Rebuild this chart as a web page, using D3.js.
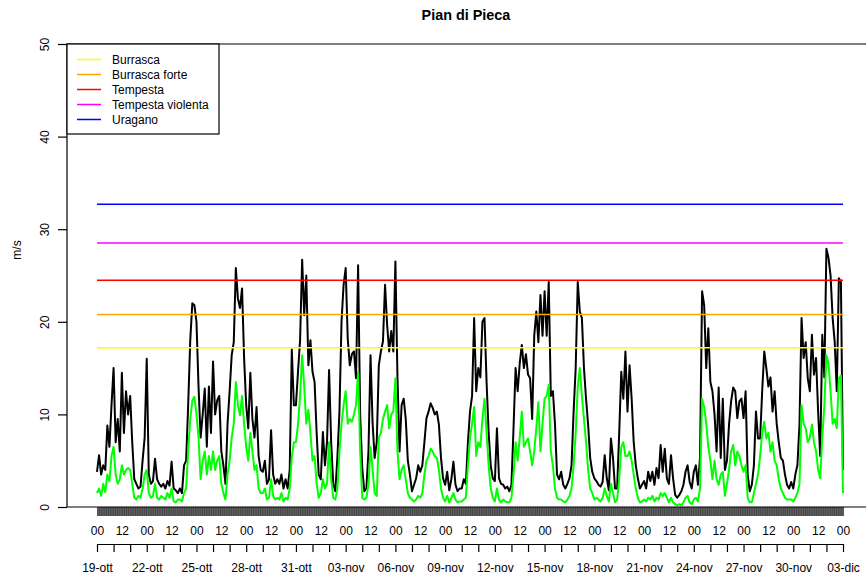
<!DOCTYPE html>
<html>
<head>
<meta charset="utf-8">
<script src="https://cdn.jsdelivr.net/npm/d3@7"></script>
<style>
body { margin: 0; background: #fff; }
text { font-family: "Liberation Sans", Arial, sans-serif; }
</style>
</head>
<body>
<div id="chart"></div>
<script>
var title = "Pian di Pieca";
var yLabel = "m/s";
var yTicks = [0, 10, 20, 30, 40, 50];
var stepHours = 3;
var hourLabels = ["00", "12"];
var dayLabels = ["19-ott", "22-ott", "25-ott", "28-ott", "31-ott", "03-nov", "06-nov", "09-nov",
                 "12-nov", "15-nov", "18-nov", "21-nov", "24-nov", "27-nov", "30-nov", "03-dic"];

var thresholdNames = ["Burrasca", "Burrasca forte", "Tempesta", "Tempesta violenta", "Uragano"];
var thresholdValues = [17.2, 20.8, 24.5, 28.5, 32.7];
var thresholdColors = ["#ffff00", "#ffa500", "#ff0000", "#ff00ff", "#0000ff"];

// raffica (black), one row per day, every 3 hours
var gust = [
  3.8, 5.6, 3.5, 4.5, 4.0, 8.8, 6.5, 11.0,
  15.0, 7.0, 9.5, 6.0, 14.5, 8.0, 12.5, 10.0,
  12.0, 7.0, 3.0, 2.5, 2.0, 2.2, 5.0, 7.5,
  16.0, 3.5, 2.5, 2.8, 5.2, 3.0, 2.5, 2.2,
  2.5, 2.0, 2.8, 2.3, 4.9, 2.0, 1.8, 1.5,
  2.0, 1.5, 4.5, 5.0, 11.0, 18.0, 22.0, 21.8,
  20.0, 13.0, 7.5, 10.0, 12.8, 6.5, 13.0, 8.0,
  15.7, 10.0, 11.5, 12.0, 6.0, 4.5, 2.5, 9.0,
  12.5, 16.4, 17.8, 25.8, 22.5, 21.5, 23.6, 16.0,
  11.0, 8.5, 14.5, 9.5, 7.5, 10.8, 5.5, 4.0,
  3.8, 5.0, 2.5, 3.0, 8.3, 3.5, 2.5, 3.0,
  2.5, 3.5, 2.0, 3.0, 2.0, 4.0, 17.0, 11.0,
  11.0, 14.6, 18.0, 26.7, 20.7, 25.0, 15.3, 18.0,
  14.6, 13.5, 8.0, 3.5, 3.0, 8.1, 4.5, 7.0,
  14.8, 7.0, 2.5, 1.7, 5.3, 10.3, 20.0, 24.0,
  25.8, 18.2, 15.3, 16.5, 16.8, 13.9, 26.1, 10.0,
  4.2, 1.7, 2.0, 6.0, 16.4, 9.0, 5.3, 7.0,
  15.3, 16.8, 17.9, 24.0, 19.7, 16.8, 19.0, 16.8,
  26.5, 14.0, 6.0, 11.0, 11.7, 9.5, 5.0, 3.5,
  1.7, 2.4, 3.1, 4.5, 3.8, 4.5, 7.0, 9.6,
  10.3, 11.2, 10.7, 10.0, 10.3, 8.9, 5.3, 3.1,
  2.4, 3.8, 1.8, 3.0, 4.9, 2.4, 1.7, 2.0,
  2.0, 3.0, 2.5, 7.0, 10.3, 12.0, 20.4, 12.5,
  15.0, 14.0, 20.0, 20.4, 13.5, 8.0, 4.5, 3.1,
  2.8, 8.5, 3.1, 2.5, 2.4, 2.0, 2.2, 1.7,
  2.4, 8.5, 15.0, 12.5, 15.5, 17.5, 15.0, 16.5,
  14.3, 13.9, 9.5, 18.5, 21.1, 17.8, 22.9, 18.5,
  23.3, 18.5, 24.3, 12.0, 12.5, 9.0, 3.5, 3.0,
  3.8, 2.4, 2.0, 2.5, 3.1, 4.5, 10.3, 15.0,
  24.3, 21.1, 20.4, 15.0, 11.7, 8.9, 5.3, 3.8,
  3.1, 2.8, 2.4, 2.2, 2.7, 5.6, 3.1, 1.8,
  7.4, 5.3, 2.0, 2.0, 8.0, 14.6, 11.7, 16.8,
  10.3, 15.3, 11.7, 7.0, 4.5, 3.1, 2.0, 2.4,
  2.8, 2.0, 3.8, 2.8, 3.8, 2.4, 4.2, 3.1,
  6.7, 3.8, 6.3, 3.1, 2.5, 5.6, 3.1, 1.3,
  1.0, 1.3, 1.7, 2.4, 3.8, 4.5, 2.7, 2.0,
  3.8, 4.5, 2.4, 5.3, 23.3, 21.8, 15.0, 19.3,
  13.5, 12.5, 10.0, 6.0, 12.9, 5.3, 11.7, 4.0,
  5.0, 8.9, 11.4, 12.9, 12.5, 9.6, 11.4, 11.7,
  9.6, 12.5, 3.5, 1.7, 2.4, 4.5, 10.3, 7.4,
  7.4, 12.5, 16.8, 15.0, 13.0, 14.0, 10.3, 12.5,
  9.0, 7.0, 5.3, 5.0, 3.5, 2.4, 2.0, 2.7,
  2.0, 3.5, 4.5, 8.9, 20.4, 16.1, 17.8, 13.9,
  12.5, 18.6, 14.3, 16.1, 10.3, 5.5, 18.6, 14.0,
  27.9, 26.9, 25.0, 20.4, 17.8, 12.5, 24.7, 24.3,
  4.0
];

// vento medio (green), same times
var wind = [
  1.5, 2.0, 1.2, 2.5, 1.6, 3.5, 2.8, 5.5,
  6.5, 3.5, 2.5, 3.0, 4.5, 3.5, 4.0, 4.2,
  4.0, 2.5, 1.0, 0.8, 1.2, 1.0, 2.0, 3.5,
  4.0, 1.5, 1.0, 1.2, 2.5, 1.0, 0.8, 1.2,
  1.0, 0.8, 1.5, 1.0, 2.0, 0.6, 0.5, 0.8,
  0.8, 0.6, 1.5, 2.0, 6.0, 9.5, 11.5, 11.9,
  10.0, 7.5, 3.0, 5.0, 6.0, 3.5, 5.5, 4.0,
  6.0, 4.0, 5.0, 5.5, 2.5, 1.5, 0.8, 3.5,
  5.0, 7.5, 9.0, 13.5, 11.0, 9.9, 12.0, 9.0,
  6.5, 5.0, 8.0, 6.0, 4.0, 4.5, 2.0, 1.5,
  1.5, 2.0, 0.8, 1.0, 3.0, 1.2, 0.8, 1.0,
  0.8, 1.5, 0.6, 1.0, 0.8, 2.0, 5.3, 7.0,
  7.0, 8.9, 12.0, 16.4, 13.0, 9.0, 10.5, 8.0,
  5.0, 5.5, 2.5, 1.0, 1.5, 3.0, 2.0, 2.5,
  7.0, 3.0, 1.0, 0.8, 2.0, 6.0, 9.0, 11.0,
  12.5, 9.0, 9.5, 9.2, 10.0, 11.0, 14.6, 6.0,
  1.0, 0.8, 1.0, 2.5, 6.5, 4.0, 1.5, 1.2,
  7.5, 8.0, 9.5, 10.3, 11.0, 8.5, 10.0, 10.3,
  13.9, 6.0, 3.0, 4.0, 4.5, 3.0, 1.5, 1.0,
  0.8, 0.6, 0.8, 1.2, 1.0, 1.5, 3.5, 5.0,
  5.5, 6.3, 6.0, 5.5, 5.3, 4.0, 2.0, 1.0,
  0.6, 1.2, 0.5, 1.0, 1.5, 0.8, 0.5, 0.6,
  0.6, 0.8, 1.0, 4.5, 7.5, 9.0, 10.8, 5.5,
  7.0, 6.5, 9.5, 11.7, 8.0, 4.5, 2.0, 1.0,
  0.6, 2.0, 0.8, 0.5, 0.8, 0.6, 0.5, 0.5,
  1.0, 3.5, 7.0, 5.0, 7.5, 10.3, 6.5, 7.0,
  7.4, 6.0, 4.5, 6.0, 8.5, 11.3, 6.0, 9.0,
  11.7, 12.0, 13.2, 6.0, 4.5, 2.0, 1.0, 0.8,
  0.8, 0.6, 0.5, 0.8, 1.2, 2.0, 4.5, 8.0,
  13.0, 15.0, 12.0, 9.5, 7.0, 4.0, 2.0, 1.5,
  0.8, 1.0, 0.8, 0.6, 1.0, 2.0, 1.2, 0.6,
  2.5, 1.5, 0.5, 0.8, 3.0, 6.5, 7.0, 5.5,
  5.5, 6.0, 5.0, 3.5, 2.0, 1.0, 0.5, 0.6,
  0.8, 0.6, 1.0, 0.8, 1.2, 0.6, 1.0, 0.8,
  1.5, 1.2, 1.5, 1.0, 0.5, 1.0, 0.5, 0.3,
  0.2, 0.3, 0.2, 0.5, 1.0, 1.2, 0.5, 0.3,
  0.8, 1.0, 0.6, 2.0, 11.7, 10.8, 9.0, 6.5,
  5.0, 3.0, 5.0, 3.0, 2.4, 3.5, 3.8, 1.2,
  2.5, 4.0, 6.0, 6.7, 4.5, 6.0, 5.5, 4.5,
  3.8, 4.5, 1.0, 0.5, 0.5, 1.5, 2.5, 3.5,
  5.5, 8.0, 9.2, 7.4, 8.0, 6.0, 7.0, 5.0,
  4.5, 3.0, 2.0, 1.5, 1.0, 0.8, 0.8, 0.8,
  0.6, 1.0, 1.5, 2.5, 11.0, 9.0, 8.5, 7.0,
  7.5, 8.9, 7.0, 6.0, 4.0, 3.1, 7.5, 11.0,
  16.4, 15.5, 12.5, 9.0, 9.5, 8.5, 13.9, 14.2,
  1.5
];

var width = 866, height = 578;
var totalHours = (gust.length - 1) * stepHours;

var svg = d3.select("#chart").append("svg")
    .attr("width", width)
    .attr("height", height);

var x = d3.scaleLinear().domain([0, totalHours]).range([97, 843]);
var y = d3.scaleLinear().domain([0, 50]).range([507, 44]);

// series
var line = d3.line()
    .x(function(d, i) { return x(i * stepHours); })
    .y(function(d) { return y(d); });

svg.append("path").datum(gust)
    .attr("d", line)
    .attr("fill", "none")
    .attr("stroke", "#000")
    .attr("stroke-width", 2)
    .attr("stroke-linejoin", "round");

svg.append("path").datum(wind)
    .attr("d", line)
    .attr("fill", "none")
    .attr("stroke", "#00ff00")
    .attr("stroke-width", 2)
    .attr("stroke-linejoin", "round");

// soglie
svg.append("g").selectAll("line")
    .data(thresholdValues)
    .join("line")
    .attr("x1", x(0)).attr("x2", x(totalHours))
    .attr("y1", d => y(d)).attr("y2", d => y(d))
    .attr("stroke", (d, i) => thresholdColors[i])
    .attr("stroke-width", 1.5);

// box
svg.append("path")
    .attr("d", "M866,44H67V507H866")
    .attr("fill", "none")
    .attr("stroke", "#000")
    .attr("stroke-width", 1.2);

// y axis
var yAxis = svg.append("g")
    .attr("transform", "translate(67,0)")
    .call(d3.axisLeft(y).tickValues(yTicks).tickSize(9).tickSizeOuter(0));
yAxis.select(".domain").remove();
yAxis.selectAll(".tick line").attr("stroke-width", 1.2);
yAxis.selectAll(".tick text")
    .attr("x", 0).attr("dy", 0)
    .attr("text-anchor", "middle")
    .attr("transform", "translate(-18,0) rotate(-90)")
    .style("font-size", "12px")
    .style("font-family", "'Liberation Sans', Arial, sans-serif")
    .attr("fill", "#000");

svg.append("text")
    .attr("transform", "translate(21,250) rotate(-90)")
    .attr("text-anchor", "middle")
    .style("font-size", "12px")
    .text(yLabel);

// hourly ticks
var hourAxis = svg.append("g")
    .attr("transform", "translate(0,507)")
    .call(d3.axisBottom(x).tickValues(d3.range(0, totalHours + 1, 1)).tickSize(9).tickFormat(""));
hourAxis.select(".domain").remove();
hourAxis.selectAll(".tick line").attr("stroke-width", 0.6);

var hourLab = svg.append("g")
    .attr("transform", "translate(0,507)")
    .call(d3.axisBottom(x).tickValues(d3.range(0, totalHours + 1, 36)).tickSize(0).tickPadding(19)
        .tickFormat(function(h) { return hourLabels[(h / 12) % 2]; }));
hourLab.select(".domain").remove();
hourLab.selectAll("text")
    .style("font-size", "12px")
    .style("font-family", "'Liberation Sans', Arial, sans-serif");

// day axis
var dayAxis = svg.append("g")
    .attr("transform", "translate(0,544)")
    .call(d3.axisBottom(x).tickValues(d3.range(0, totalHours + 1, 24)).tickSize(8).tickSizeOuter(0).tickPadding(11)
        .tickFormat(function(h) { return h % 72 === 0 ? dayLabels[h / 72] : ""; }));
dayAxis.selectAll("line, path").attr("stroke-width", 1.2);
dayAxis.selectAll("text")
    .style("font-size", "12px")
    .style("font-family", "'Liberation Sans', Arial, sans-serif");

// title
svg.append("text")
    .attr("x", 466).attr("y", 20)
    .attr("text-anchor", "middle")
    .style("font-size", "14.4px")
    .style("font-weight", "bold")
    .text(title);

// legend
var legend = svg.append("g");
legend.append("rect")
    .attr("x", 67).attr("y", 44).attr("width", 152).attr("height", 90)
    .attr("fill", "#fff").attr("stroke", "#000").attr("stroke-width", 1.2);
var rows = legend.selectAll("g.row")
    .data(thresholdNames)
    .join("g")
    .attr("class", "row")
    .attr("transform", (d, i) => "translate(0," + (59.5 + i * 15) + ")");
rows.append("line")
    .attr("x1", 77).attr("x2", 101)
    .attr("stroke", (d, i) => thresholdColors[i])
    .attr("stroke-width", 1.5);
rows.append("text")
    .attr("x", 112).attr("dy", "0.35em")
    .style("font-size", "12px")
    .text(d => d);
</script>
</body>
</html>
